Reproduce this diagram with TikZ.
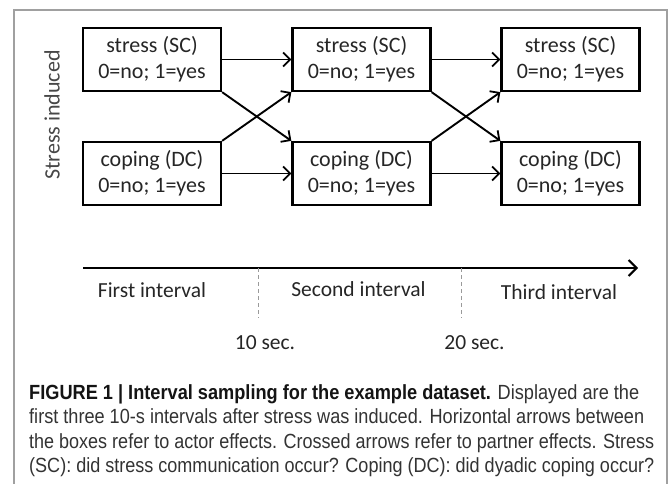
\documentclass[tikz,border=0pt]{standalone}
\usepackage{fontspec}
\usepackage{graphicx}
\setmainfont{Carlito}
\newfontfamily\capfont{Liberation Sans}
\usetikzlibrary{arrows.meta}
\definecolor{txt}{HTML}{262626}
\definecolor{framecol}{HTML}{A0A0A0}
\definecolor{dashcol}{HTML}{9A9A9A}
\definecolor{captxt}{HTML}{333333}
\definecolor{capbold}{HTML}{141414}
\begin{document}
\begin{tikzpicture}[x=1pt,y=-1pt,
  box/.style={draw=black, line width=2.3pt, minimum width=138pt, minimum height=63pt,
    inner sep=0pt, align=center, font=\fontsize{22}{26}\selectfont, text=txt},
  conn/.style={line width=1.9pt, -{Straight Barb[length=7pt,width=14pt,line width=1.8pt]}},
  timeline/.style={line width=2.2pt, -{Straight Barb[length=8pt,width=16pt,line width=2pt]}},
  tick/.style={draw=dashcol, line width=0.9pt, dash pattern=on 4pt off 3pt},
  lbl/.style={anchor=base, inner sep=0pt, font=\fontsize{21.5}{24}\selectfont, text=txt},
  capline/.style={anchor=base west, inner sep=0pt, text=captxt},
  capfontsize/.style={},
  framestyle/.style={draw=framecol, line width=1.2pt}
]
\useasboundingbox (0,0) rectangle (669,484);
\fill[white] (0,0) rectangle (669,484);
% frame
\coordinate (fbl) at (14,484);
\coordinate (ftl) at (14,10);
\coordinate (ftr) at (667,10);
\coordinate (fbr) at (667,484);
\draw[framestyle] (fbl) -- (ftl) -- (ftr) -- (fbr);

% boxes
\node[box] (s1) at (152,59.5) {stress (SC)\\0=no; 1=yes};
\node[box] (s2) at (361.5,59.5) {stress (SC)\\0=no; 1=yes};
\node[box] (s3) at (570.5,59.5) {stress (SC)\\0=no; 1=yes};
\node[box] (c1) at (152,173.5) {coping (DC)\\0=no; 1=yes};
\node[box] (c2) at (361.5,173.5) {coping (DC)\\0=no; 1=yes};
\node[box] (c3) at (570.5,173.5) {coping (DC)\\0=no; 1=yes};

% side label
\node[rotate=90, inner sep=0pt, font=\fontsize{22}{26}\selectfont, text=txt!85] (si) at (52,115) {Stress induced};

% actor effects
\draw[conn] (s1.east) -- (s2.west);
\draw[conn] (s2.east) -- (s3.west);
\draw[conn] (c1.east) -- (c2.west);
\draw[conn] (c2.east) -- (c3.west);
% partner effects
\draw[conn] (s1.south east) -- (c2.north west);
\draw[conn] (c1.north east) -- (s2.south west);
\draw[conn] (s2.south east) -- (c3.north west);
\draw[conn] (c2.north east) -- (s3.south west);

% timeline
\coordinate (t0) at (83,268);
\coordinate (t1) at (638,268);
\draw[timeline] (t0) -- (t1);
\coordinate (d1a) at (258,268);
\coordinate (d1b) at (258,318);
\coordinate (d2a) at (461,268);
\coordinate (d2b) at (461,318);
\draw[tick] (d1a) -- (d1b);
\draw[tick] (d2a) -- (d2b);

\node[lbl] (i1) at (152,297) {First interval};
\node[lbl] (i2) at (358.5,296) {Second interval};
\node[lbl] (i3) at (559,299) {Third interval};
\node[lbl] (m1) at (265,349) {10 sec.};
\node[lbl] (m2) at (474.5,349) {20 sec.};

% caption
\node[capline] (cap1) at (29,399) {\resizebox{610pt}{\height}{\capfont\fontsize{20.5}{24}\selectfont\textcolor{capbold}{\textbf{FIGURE 1 | Interval sampling for the example dataset.}} Displayed are the}};
\node[capline] (cap2) at (29,423.5) {\resizebox{615pt}{\height}{\capfont\fontsize{20.5}{24}\selectfont first three 10-s intervals after stress was induced. Horizontal arrows between}};
\node[capline] (cap3) at (29,448) {\resizebox{625pt}{\height}{\capfont\fontsize{20.5}{24}\selectfont the boxes refer to actor effects. Crossed arrows refer to partner effects. Stress}};
\node[capline] (cap4) at (29,472.5) {\resizebox{625pt}{\height}{\capfont\fontsize{20.5}{24}\selectfont (SC): did stress communication occur? Coping (DC): did dyadic coping occur?}};
\end{tikzpicture}
\end{document}
